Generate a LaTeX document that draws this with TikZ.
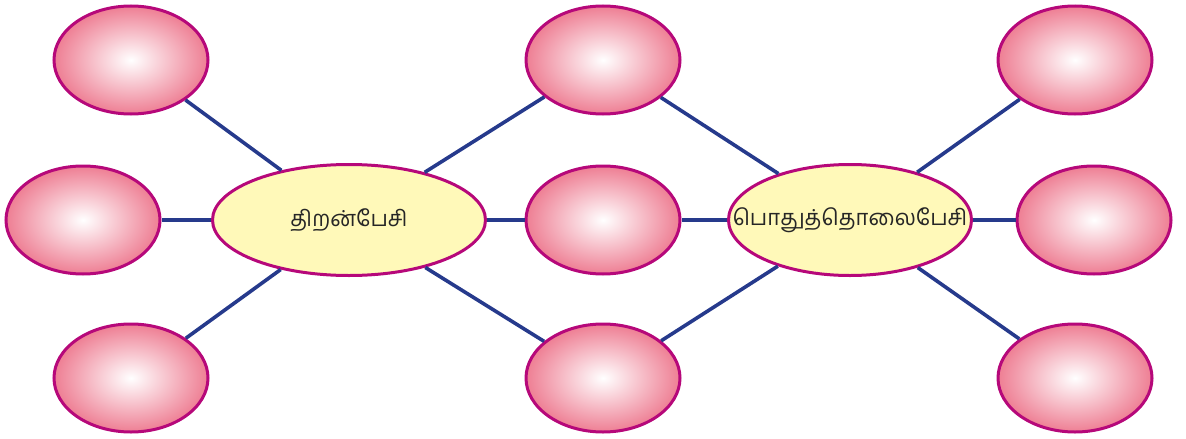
\documentclass[tikz,border=0pt]{standalone}
\usepackage{fontspec}
\newfontfamily\tamilfont[Script=Tamil]{Hind Madurai}
\usetikzlibrary{shapes.geometric}
\definecolor{rim}{RGB}{182,8,122}
\definecolor{link}{RGB}{38,58,140}
\definecolor{pinkout}{RGB}{238,126,147}
\definecolor{hub}{RGB}{255,249,185}
\tikzset{
  leaf/.style={ellipse, draw=rim, line width=3pt, minimum width=154pt, minimum height=108pt, inner sep=0pt, inner color=white, outer color=pinkout},
  hubnode/.style={ellipse, draw=rim, line width=3pt, fill=hub, minimum height=111pt, inner sep=0pt, font=\tamilfont\fontsize{22}{24}\selectfont, text=black!85},
  conn/.style={draw=link, line width=3.6pt}
}
\begin{document}
\begin{tikzpicture}[x=1pt,y=-1pt]
\useasboundingbox (0,0) rectangle (1186,439);
\node[hubnode, minimum width=273pt] (h1) at (349,220) {\makebox[0pt]{திறன்பேசி}};
\node[hubnode, minimum width=243pt] (h2) at (850,220) {\makebox[0pt]{பொதுத்தொலைபேசி}};
\node[leaf] (l1) at (131,60) {};
\node[leaf] (l2) at (83,220) {};
\node[leaf] (l3) at (131,378) {};
\node[leaf] (m1) at (603,60) {};
\node[leaf] (m2) at (603,220) {};
\node[leaf] (m3) at (603,378) {};
\node[leaf] (r1) at (1075,60) {};
\node[leaf] (r2) at (1094,220) {};
\node[leaf] (r3) at (1075,378) {};
\path[conn] (l1) -- (h1);
\path[conn] (l2) -- (h1);
\path[conn] (l3) -- (h1);
\path[conn] (h1) -- (m1);
\path[conn] (h1) -- (m2);
\path[conn] (h1) -- (m3);
\path[conn] (m1) -- (h2);
\path[conn] (m2) -- (h2);
\path[conn] (m3) -- (h2);
\path[conn] (h2) -- (r1);
\path[conn] (h2) -- (r2);
\path[conn] (h2) -- (r3);
\end{tikzpicture}
\end{document}
